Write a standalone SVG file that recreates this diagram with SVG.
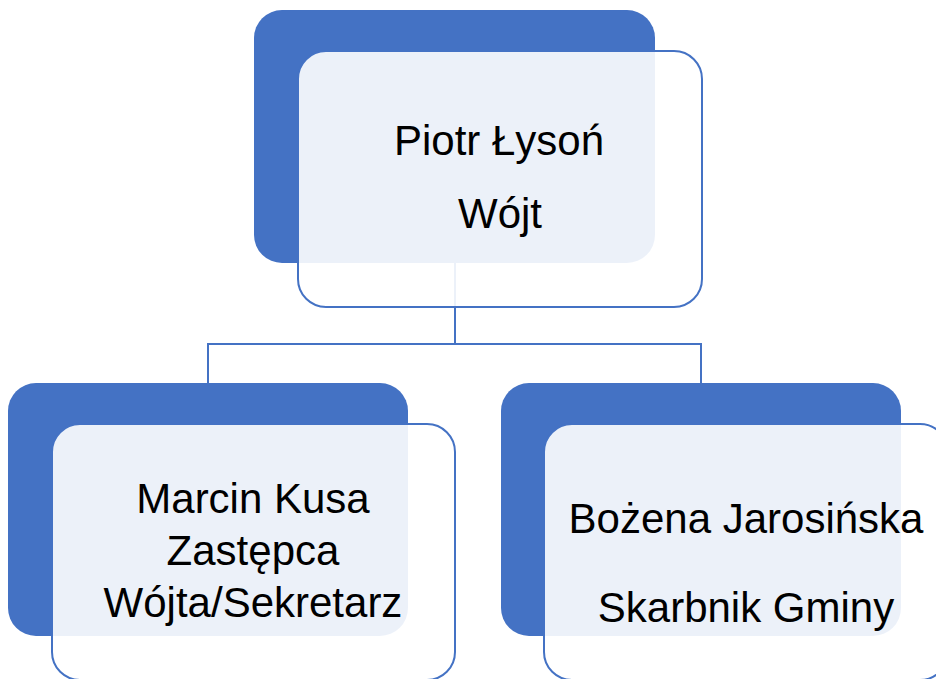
<svg xmlns="http://www.w3.org/2000/svg" width="936" height="679" viewBox="0 0 936 679">
<style>
.back{fill:#4472C4;}
.front{fill:#FFFFFF;fill-opacity:0.9;stroke:#4472C4;stroke-width:2;}
.conn{fill:none;stroke:#4472C4;stroke-width:2;}
text{font-family:"Liberation Sans",Arial,sans-serif;font-size:42px;fill:#000000;text-anchor:middle;}
</style>
<rect width="936" height="679" fill="#FFFFFF"/>
<g id="connectors">
<path class="conn" d="M455,263 V344 M208,344 H701 M208,343 V383 M701,343 V383"/>
</g>
<g id="node-wojt">
<rect class="back" x="254" y="10" width="401" height="253" rx="28"/>
<rect class="front" x="298" y="51" width="404" height="256" rx="28"/>
<text x="499" y="155">Piotr Łysoń</text>
<text x="500" y="228">Wójt</text>
</g>
<g id="node-zastepca">
<rect class="back" x="8" y="383" width="400" height="253" rx="28"/>
<rect class="front" x="52" y="424" width="403" height="256" rx="28"/>
<text x="253" y="513">Marcin Kusa</text>
<text x="253" y="565">Zastępca</text>
<text x="253" y="617">Wójta/Sekretarz</text>
</g>
<g id="node-skarbnik">
<rect class="back" x="501" y="383" width="400" height="253" rx="28"/>
<rect class="front" x="544" y="424" width="404" height="256" rx="28"/>
<text x="746" y="533">Bożena Jarosińska</text>
<text x="746" y="622">Skarbnik Gminy</text>
</g>
</svg>
